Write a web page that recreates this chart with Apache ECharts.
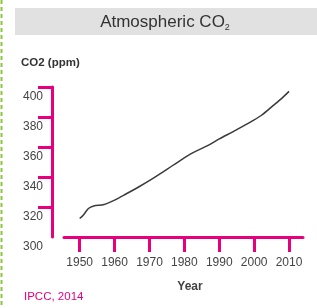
<!DOCTYPE html>
<html>
<head>
<meta charset="utf-8">
<script src="https://cdn.jsdelivr.net/npm/echarts@6/dist/echarts.min.js"></script>
<style>
  html, body { margin: 0; padding: 0; background: #fff; }
  #chart { width: 317px; height: 308px; }
</style>
</head>
<body>
<div id="chart"></div>
<script>
// 数据
const years = [1950, 1951, 1952.5, 1954, 1957, 1960, 1963.5, 1967, 1971, 1975, 1979, 1982.5, 1986.5, 1990, 1994, 1998, 2002, 2005.5, 2008, 2010]
const co2 = [312.3, 314.5, 319, 320.7, 321.7, 324.6, 329, 333.5, 339.1, 345.1, 351.3, 356.2, 360.7, 365.4, 370.3, 375.4, 381, 387.7, 392.6, 397.1]
const xTicks = [1950, 1960, 1970, 1980, 1990, 2000, 2010]
const yTicks = [320, 340, 360, 380, 400]
const yLabels = [300, 320, 340, 360, 380, 400]

const pink = '#e6007e'
const font = 'Liberation Sans, Arial, Helvetica, sans-serif'

const myChart = echarts.init(document.querySelector('#chart'))

const option = {
    animation: false,
    grid: { left: 64, right: 14, top: 87, bottom: 71 },
    graphic: [
        // 左侧绿色虚线
        {
            type: 'line',
            shape: { x1: 1.5, y1: 0, x2: 1.5, y2: 308 },
            style: { stroke: '#8cc63f', lineWidth: 2, lineDash: [4, 3] }
        },
        // 标题背景
        {
            type: 'rect',
            shape: { x: 15, y: 8, width: 302, height: 27 },
            style: { fill: '#e1e1e2' }
        },
        {
            type: 'text',
            x: 165, y: 22,
            style: {
                text: '{a|Atmospheric CO}{s|2}',
                align: 'center', verticalAlign: 'middle',
                rich: {
                    a: { fontSize: 17, fontFamily: font, fill: '#333' },
                    s: { fontSize: 9, fontFamily: font, fill: '#333', padding: [12, 0, 0, 0] }
                }
            }
        },
        {
            type: 'text',
            x: 21, y: 63,
            style: { text: 'CO2 (ppm)', fontSize: 11.5, fontWeight: 'bold', fontFamily: font, fill: '#333', verticalAlign: 'middle' }
        },
        {
            type: 'text',
            x: 190, y: 287,
            style: { text: 'Year', fontSize: 12, fontWeight: 'bold', fontFamily: font, fill: '#444', align: 'center', verticalAlign: 'middle' }
        },
        {
            type: 'text',
            x: 24, y: 297,
            style: { text: 'IPCC, 2014', fontSize: 11.5, fontFamily: font, fill: pink, verticalAlign: 'middle' }
        }
    ],
    xAxis: {
        type: 'value',
        min: 1945.5,
        max: 2014,
        axisLine: { show: true, lineStyle: { color: pink, width: 3 } },
        axisTick: { show: true, customValues: xTicks, length: 15, lineStyle: { color: pink, width: 3 } },
        axisLabel: {
            customValues: xTicks, margin: 20, fontSize: 12, fontFamily: font, color: '#444',
            formatter: v => String(v)
        },
        splitLine: { show: false }
    },
    yAxis: {
        type: 'value',
        min: 300,
        max: 400,
        offset: 12,
        axisLine: { show: true, lineStyle: { color: pink, width: 3 } },
        axisTick: { show: true, customValues: yTicks, length: 14, lineStyle: { color: pink, width: 3 } },
        axisLabel: {
            customValues: yLabels, margin: 9, fontSize: 12, fontFamily: font, color: '#444',
            verticalAlign: 'top', padding: [4, 0, 0, 0],
            formatter: v => String(v)
        },
        splitLine: { show: false }
    },
    series: [
        {
            type: 'line',
            data: years.map((y, i) => [y, co2[i]]),
            smooth: 0.3,
            showSymbol: false,
            lineStyle: { color: '#3a3a3a', width: 1.5 }
        }
    ]
}
myChart.setOption(option)
</script>
</body>
</html>
